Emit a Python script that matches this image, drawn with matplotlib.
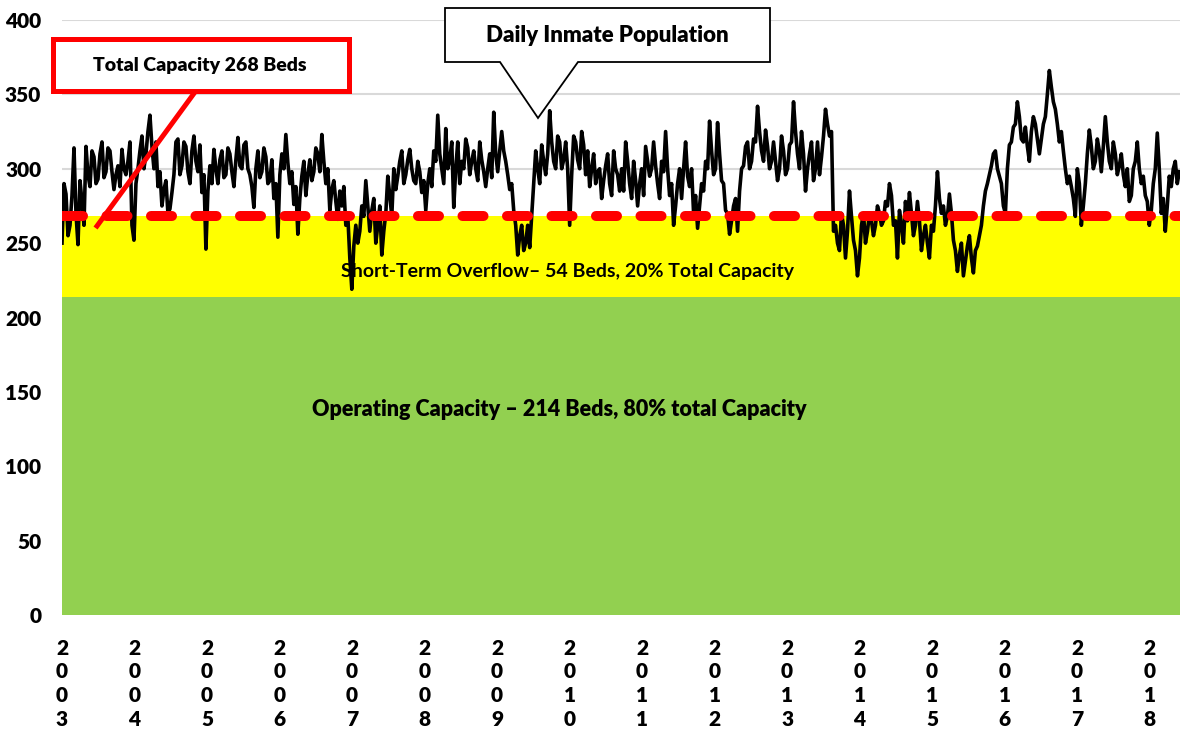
import numpy as np
import matplotlib
matplotlib.use('Agg')
import matplotlib.pyplot as plt
from matplotlib.patches import Rectangle, Polygon
from matplotlib.lines import Line2D
from matplotlib.transforms import blended_transform_factory

W, H = 1180, 732

GREEN  = '#92D050'
YELLOW = '#FFFF00'
RED    = '#FF0000'
GRID   = '#D9D9D9'

plt.rcParams.update({
    'font.family': 'Lato',
    'font.weight': 'heavy',
    'font.size': 15,
})

YEARS   = list(range(2003, 2019))
Y_TICKS = [0, 50, 100, 150, 200, 250, 300, 350, 400]
OPERATING_BEDS = 214
TOTAL_BEDS     = 268
DATE_START, DATE_END = 2003.0, 2018.41

POP_2003_2006 = [
    250, 290, 283, 255, 262, 282, 314, 270, 249, 292,
    278, 262, 315, 296, 288, 312, 308, 290, 293, 310,
    318, 294, 298, 314, 312, 298, 286, 296, 302, 288,
    313, 300, 296, 305, 318, 262, 252, 290, 300, 312,
    322, 300, 310, 325, 336, 315, 300, 318, 288, 298,
    275, 286, 292, 270, 273, 284, 296, 318, 320, 296,
    302, 318, 315, 298, 290, 312, 322, 305, 298, 316,
    284, 296, 246, 285, 302, 290, 313, 300, 290, 306,
    312, 294, 296, 314, 310, 298, 288, 306, 321, 302,
    300, 316, 318, 300, 296, 288, 274, 300, 312, 294,
    298, 314, 308, 290, 292, 306, 280, 290, 254, 296,
    310, 300, 323, 304, 290, 298, 276, 288, 256, 280,
    295, 305, 282, 296, 306, 292, 298, 314, 310, 298,
    323, 305, 290, 300, 272, 286, 292, 278, 266, 285,
]
POP_2007_2010 = [
    275, 288, 262, 268, 240, 219, 248, 262, 250, 258,
    275, 268, 292, 275, 258, 272, 280, 250, 262, 275,
    242, 258, 270, 295, 282, 268, 300, 286, 295, 305,
    312, 290, 296, 306, 313, 300, 292, 290, 305, 298,
    284, 292, 272, 290, 300, 288, 312, 305, 336, 310,
    300, 290, 327, 300, 306, 318, 274, 300, 318, 290,
    305, 300, 320, 314, 296, 305, 312, 300, 292, 318,
    306, 298, 288, 300, 310, 294, 338, 310, 298, 312,
    325, 312, 305, 296, 286, 290, 272, 262, 242, 255,
    262, 245, 250, 262, 247, 268, 290, 312, 300, 290,
    316, 305, 296, 310, 339, 318, 305, 300, 322, 318,
    300, 306, 318, 300, 262, 296, 322, 318, 306, 300,
    325, 316, 296, 312, 288, 300, 310, 290, 298, 300,
    280, 292, 302, 310, 290, 282, 312, 300, 296, 285,
]
POP_2010_2014 = [
    300, 285, 318, 305, 290, 280, 305, 292, 275, 290,
    300, 282, 315, 305, 295, 300, 318, 302, 290, 280,
    305, 298, 325, 300, 282, 290, 262, 275, 290, 300,
    280, 300, 318, 295, 288, 300, 270, 282, 260, 275,
    290, 285, 305, 300, 332, 312, 296, 300, 331, 310,
    292, 290, 272, 270, 256, 265, 275, 280, 258, 285,
    300, 302, 315, 318, 300, 305, 320, 318, 342, 325,
    312, 305, 326, 315, 300, 305, 318, 305, 292, 300,
    322, 312, 296, 300, 316, 318, 345, 325, 310, 300,
    325, 310, 285, 300, 310, 318, 292, 300, 318, 296,
    308, 322, 340, 330, 322, 325, 258, 262, 250, 245,
    270, 262, 240, 258, 285, 268, 252, 245, 228, 240,
    262, 270, 250, 258, 270, 265, 255, 262, 275, 270,
    262, 265, 278, 275, 290, 282, 262, 265, 240, 272,
]
POP_2014_2018 = [
    262, 250, 278, 265, 284, 270, 255, 262, 278, 265,
    245, 255, 262, 250, 240, 262, 258, 275, 298, 280,
    270, 275, 262, 268, 283, 270, 252, 245, 231, 242,
    250, 228, 238, 248, 255, 240, 230, 245, 248, 255,
    262, 275, 285, 290, 296, 302, 310, 312, 300, 295,
    290, 275, 270, 300, 316, 318, 328, 330, 345, 335,
    320, 318, 328, 315, 305, 325, 335, 330, 320, 310,
    320, 330, 335, 350, 366, 355, 345, 340, 330, 318,
    325, 312, 300, 290, 295, 288, 280, 268, 300, 290,
    262, 275, 290, 310, 326, 315, 300, 305, 320, 312,
    298, 315, 335, 318, 305, 300, 318, 310, 296, 302,
    310, 296, 288, 300, 278, 282, 300, 305, 318, 300,
    290, 295, 282, 278, 262, 272, 290, 300, 324, 300,
    270, 280, 258, 275, 295, 288, 300, 305, 290, 298,
]

population = np.array(POP_2003_2006 + POP_2007_2010 + POP_2010_2014 + POP_2014_2018)
dates = np.linspace(DATE_START, DATE_END, len(population))


def fp(x, y):
    # figure pixel -> figure fraction
    return (x / W, 1 - y / H)


fig = plt.figure(figsize=(W / 100, H / 100), dpi=100)
ax = fig.add_axes([62 / W, (H - 615) / H, (1180 - 62) / W, (615 - 20) / H])

ax.axhspan(0, OPERATING_BEDS, color=GREEN, lw=0, zorder=1)
ax.axhspan(OPERATING_BEDS, TOTAL_BEDS, color=YELLOW, lw=0, zorder=1)
ax.plot(dates, population, color='black', lw=2.6, zorder=3)
ax.axhline(TOTAL_BEDS, color=RED, lw=7.2, ls=(0, (2.1, 2.35)),
           dash_capstyle='round', zorder=4)

ax.set_xlim(DATE_START, 2018.42)
ax.set_ylim(0, 400)
ax.set_yticks(Y_TICKS)
ax.set_xticks(YEARS)
ax.set_xticklabels(['\n'.join(str(y)) for y in YEARS], linespacing=1.3)
ax.yaxis.grid(True, color=GRID, lw=1.5, zorder=0)
ax.set_axisbelow(True)
ax.tick_params(axis='both', length=0, labelsize=15)
ax.tick_params(axis='y', pad=15)
ax.tick_params(axis='x', pad=17)
for s in ax.spines.values():
    s.set_visible(False)

band = blended_transform_factory(ax.transAxes, ax.transData)
ax.text(0.452, 231, 'Short-Term Overflow\u2013 54 Beds, 20% Total Capacity',
        transform=band, ha='center', va='center', fontsize=14,
        fontweight='bold', zorder=5)
ax.text(0.445, 138, 'Operating Capacity \u2013 214 Beds, 80% total Capacity',
        transform=band, ha='center', va='center', fontsize=15.5, zorder=5)

# red callout for total capacity
fig.add_artist(Line2D([fp(195, 92)[0], fp(97, 226)[0]],
                      [fp(195, 92)[1], fp(97, 226)[1]],
                      transform=fig.transFigure, color=RED, lw=3.6))
fig.add_artist(Rectangle(fp(52.5, 90.5), 297 / W, 52 / H,
                         transform=fig.transFigure, fc='white', ec=RED,
                         lw=3.6, zorder=3))
fig.text(*fp(200, 66), 'Total Capacity 268 Beds', ha='center', va='center',
         fontsize=14, zorder=4)

# speech-bubble callout for the population line
bubble = [fp(445, 8), fp(770, 8), fp(770, 62), fp(578, 62),
          fp(538, 118), fp(500, 62), fp(445, 62)]
fig.add_artist(Polygon(bubble, closed=True, transform=fig.transFigure,
                       fc='white', ec='black', lw=1.3, zorder=3))
fig.text(*fp(607, 36), 'Daily Inmate Population', ha='center', va='center',
         fontsize=16, zorder=4)

fig.savefig('out.png', dpi=100)
